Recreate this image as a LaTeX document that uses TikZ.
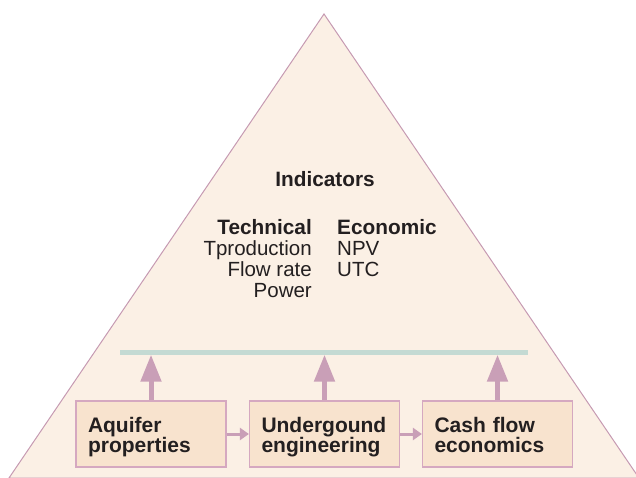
\documentclass[tikz,border=0pt]{standalone}
\usepackage{fontspec}
\setmainfont{Liberation Sans}
\usetikzlibrary{arrows.meta}

\definecolor{trifill}{HTML}{FBF0E5}
\definecolor{triline}{HTML}{C69AB2}
\definecolor{boxfill}{HTML}{F8E3CE}
\definecolor{boxline}{HTML}{D5A8C0}
\definecolor{arrowpink}{HTML}{C99FB7}
\definecolor{bargreen}{HTML}{C4DAD3}
\definecolor{ink}{HTML}{231F20}

% two lines of box text, with the same height and depth in every box
\newcommand{\twolines}[2]{\rule{0pt}{21pt}#1\\#2\vphantom{g}}

\tikzset{
  stage/.style={draw=boxline, line width=1.2pt, fill=boxfill, text=ink, minimum width=150, minimum height=66,
    inner xsep=12pt, text width=126pt, align=left, font=\bfseries\fontsize{21}{20}\selectfont},
  head/.style={inner sep=0pt, text=ink, font=\bfseries\fontsize{20.8}{22}\selectfont},
  item/.style={inner sep=0pt, text=ink, font=\fontsize{20.5}{22}\selectfont},
  uparrow/.style={draw=arrowpink, line width=5pt, -{Triangle[length=27pt,width=20pt]}},
  sidearrow/.style={draw=arrowpink, line width=3pt, -{Triangle[length=9pt,width=12pt]}}
}

\begin{document}
\begin{tikzpicture}[x=1pt, y=-1pt]
  \useasboundingbox (0,0) rectangle (636,478);
  \filldraw[fill=trifill, draw=triline, line width=1pt] (324,14) -- (639,478) -- (9,478) -- cycle;

  \node (ind) [head, anchor=base] at (325,187) {Indicators};
  \node (tech) [head, anchor=base east] at (312,234) {Technical};
  \node (t1) [item, anchor=base east] at (312,255) {Tproduction};
  \node (t2) [item, anchor=base east] at (312,276.5) {Flow rate};
  \node (t3) [item, anchor=base east] at (312,297.5) {Power};
  \node (econ) [head, anchor=base west] at (337,234) {Economic};
  \node (e1) [item, anchor=base west] at (337,255) {NPV};
  \node (e2) [item, anchor=base west] at (337,276.5) {UTC};

  \node (bar) [fill=bargreen, inner sep=0pt, minimum width=408, minimum height=5] at (324,352) {};

  \node (aq) [stage] at (151,434) {\twolines{Aquifer}{properties}};
  \node (ug) [stage] at (324.5,434) {\twolines{Undergound}{engineering}};
  \node (cf) [stage] at (497.5,434) {\twolines{Cash flow}{economics}};

  \draw[uparrow] (aq.north) -- (aq.north |- bar.south);
  \draw[uparrow] (ug.north) -- (ug.north |- bar.south);
  \draw[uparrow] (cf.north) -- (cf.north |- bar.south);
  \draw[sidearrow] (aq.east) -- (ug.west);
  \draw[sidearrow] (ug.east) -- (cf.west);
\end{tikzpicture}
\end{document}
